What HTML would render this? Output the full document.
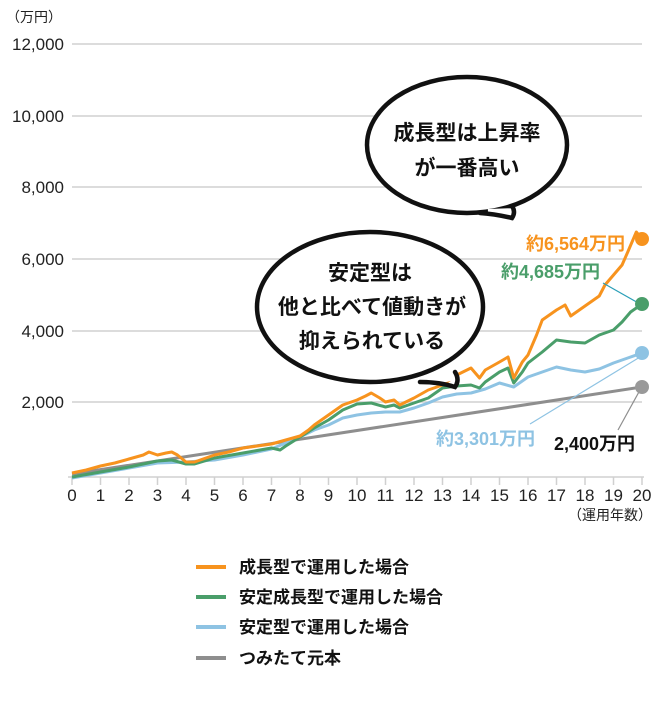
<!DOCTYPE html>
<html><head><meta charset="utf-8"><style>
body{margin:0;background:#fff}
svg text{font-family:"Liberation Sans","Noto Sans CJK JP",sans-serif}
</style></head><body>
<svg width="662" height="705" viewBox="0 0 662 705" xmlns="http://www.w3.org/2000/svg">
<g stroke="#d0d0d0" stroke-width="1.5">
<line x1="72" y1="44" x2="642" y2="44"/><line x1="72" y1="116" x2="642" y2="116"/>
<line x1="72" y1="187" x2="642" y2="187"/><line x1="72" y1="259" x2="642" y2="259"/>
<line x1="72" y1="331" x2="642" y2="331"/><line x1="72" y1="402" x2="642" y2="402"/>
<line x1="68" y1="477" x2="644" y2="477"/>
<path d="M72 477v8M100.5 477v8M129 477v8M157.5 477v8M186 477v8M214.5 477v8M243 477v8M271.5 477v8M300 477v8M328.5 477v8M357 477v8M385.5 477v8M414 477v8M442.5 477v8M471 477v8M499.5 477v8M528 477v8M556.5 477v8M585 477v8M613.5 477v8M642 477v8"/>
</g>
<g font-size="17" fill="#222" text-anchor="end">
<text x="64" y="50">12,000</text><text x="64" y="122">10,000</text><text x="64" y="193">8,000</text>
<text x="64" y="265">6,000</text><text x="64" y="337">4,000</text><text x="64" y="408">2,000</text>
</g>
<text x="6" y="22" font-size="14" fill="#222">（万円）</text>
<g font-size="17" fill="#222" text-anchor="middle">
<text x="72" y="501">0</text><text x="100.5" y="501">1</text><text x="129" y="501">2</text><text x="157.5" y="501">3</text><text x="186" y="501">4</text><text x="214.5" y="501">5</text><text x="243" y="501">6</text><text x="271.5" y="501">7</text><text x="300" y="501">8</text><text x="328.5" y="501">9</text><text x="357" y="501">10</text><text x="385.5" y="501">11</text><text x="414" y="501">12</text><text x="442.5" y="501">13</text><text x="471" y="501">14</text><text x="499.5" y="501">15</text><text x="528" y="501">16</text><text x="556.5" y="501">17</text><text x="585" y="501">18</text><text x="613.5" y="501">19</text><text x="642" y="501">20</text>
</g>
<text x="652" y="520" font-size="14" fill="#222" text-anchor="end">（運用年数）</text>
<line x1="72" y1="474" x2="642" y2="387" stroke="#8e8e8e" stroke-width="3"/>
<g transform="matrix(0.285 0 0 1 72 0)" fill="none" stroke-width="3" stroke-linejoin="round">
<polyline vector-effect="non-scaling-stroke" stroke="#8ec3e3" points="0,478 100,473 200,468 300,463 400,462 500,460 600,455 700,449 800,437 850,430 900,425 950,418 1000,415 1050,413 1100,412 1150,412 1200,408 1250,403 1300,397 1350,394 1400,393 1450,389 1500,383 1550,387 1600,377 1650,372 1700,367 1750,370 1800,372 1850,369 1900,363 1950,358 2000,353"/>
<polyline vector-effect="non-scaling-stroke" stroke="#4a9e6a" points="0,477 100,472 200,467 300,461 350,460 400,464 430,464 500,458 600,453 700,448 730,450 750,446 800,437 850,428 900,420 950,410 1000,404 1050,403 1100,407 1130,405 1150,408 1200,403 1250,398 1300,388 1350,386 1400,385 1430,388 1450,382 1500,372 1530,368 1550,383 1580,372 1600,363 1650,352 1700,340 1750,342 1800,343 1850,335 1900,330 1930,322 1960,312 2000,304"/>
<polyline vector-effect="non-scaling-stroke" stroke="#f7931e" points="0,473 50,470 100,466 150,463 200,459 250,455 270,452 300,455 330,453 350,452 370,455 400,462 430,462 460,459 500,455 550,452 600,448 650,446 700,444 750,440 800,436 830,430 850,425 900,415 950,405 1000,400 1030,396 1050,393 1080,398 1100,402 1130,400 1150,405 1200,398 1250,390 1300,385 1350,375 1400,368 1430,378 1450,370 1500,362 1530,357 1550,378 1580,362 1600,355 1630,335 1650,320 1700,310 1730,305 1750,316 1780,310 1800,306 1830,300 1850,296 1870,285 1900,275 1930,265 1950,252 1980,232 2000,239"/>
</g>
<line x1="603" y1="283" x2="640" y2="304" stroke="#2a9fb8" stroke-width="1.2"/>
<line x1="530" y1="424" x2="640" y2="357" stroke="#8ec3e3" stroke-width="1.2"/>
<line x1="618" y1="430" x2="640" y2="390" stroke="#8e8e8e" stroke-width="1.2"/>
<circle cx="642" cy="239" r="7" fill="#f7931e"/><circle cx="642" cy="304" r="7" fill="#4a9e6a"/>
<circle cx="642" cy="353" r="7" fill="#8ec3e3"/><circle cx="642" cy="387" r="7" fill="#999"/>
<g font-size="18" font-weight="bold">
<text x="625" y="250" text-anchor="end" fill="#f7931e">約6,564万円</text>
<text x="600" y="278" text-anchor="end" fill="#4a9e6a">約4,685万円</text>
<text x="535" y="445" text-anchor="end" fill="#8ec3e3">約3,301万円</text>
<text x="635" y="450" text-anchor="end" fill="#111">2,400万円</text>
</g>
<g fill="#fff" stroke="#111" stroke-width="4.5" stroke-linecap="round">
<ellipse cx="467" cy="145" rx="100" ry="68"/>
<ellipse cx="370" cy="307" rx="113" ry="75"/>
</g>
<g stroke="#fff" stroke-width="8">
<line x1="488" y1="213" x2="518" y2="212"/>
<line x1="432" y1="381" x2="455" y2="376"/>
</g>
<g fill="none" stroke="#111" stroke-width="4.5" stroke-linecap="round">
<path d="M480 213 Q495 214 512 218 Q516 212 512 206"/>
<path d="M420 382 Q440 382 455 387 Q460 380 455 372"/>
</g>
<g font-size="21" font-weight="bold" fill="#111" text-anchor="middle">
<text x="467" y="140">成長型は上昇率</text><text x="467" y="175">が一番高い</text>
<text x="370" y="280">安定型は</text><text x="372" y="314">他と比べて値動きが</text><text x="372" y="348">抑えられている</text>
</g>
<g stroke-width="4">
<line x1="196" y1="567" x2="226" y2="567" stroke="#f7931e"/>
<line x1="196" y1="597" x2="226" y2="597" stroke="#4a9e6a"/>
<line x1="196" y1="627" x2="226" y2="627" stroke="#8ec3e3"/>
<line x1="196" y1="658" x2="226" y2="658" stroke="#8e8e8e"/>
</g>
<g font-size="17" font-weight="bold" fill="#111">
<text x="239" y="573">成長型で運用した場合</text>
<text x="239" y="603">安定成長型で運用した場合</text>
<text x="239" y="633">安定型で運用した場合</text>
<text x="239" y="664">つみたて元本</text>
</g>
</svg>
</body></html>
